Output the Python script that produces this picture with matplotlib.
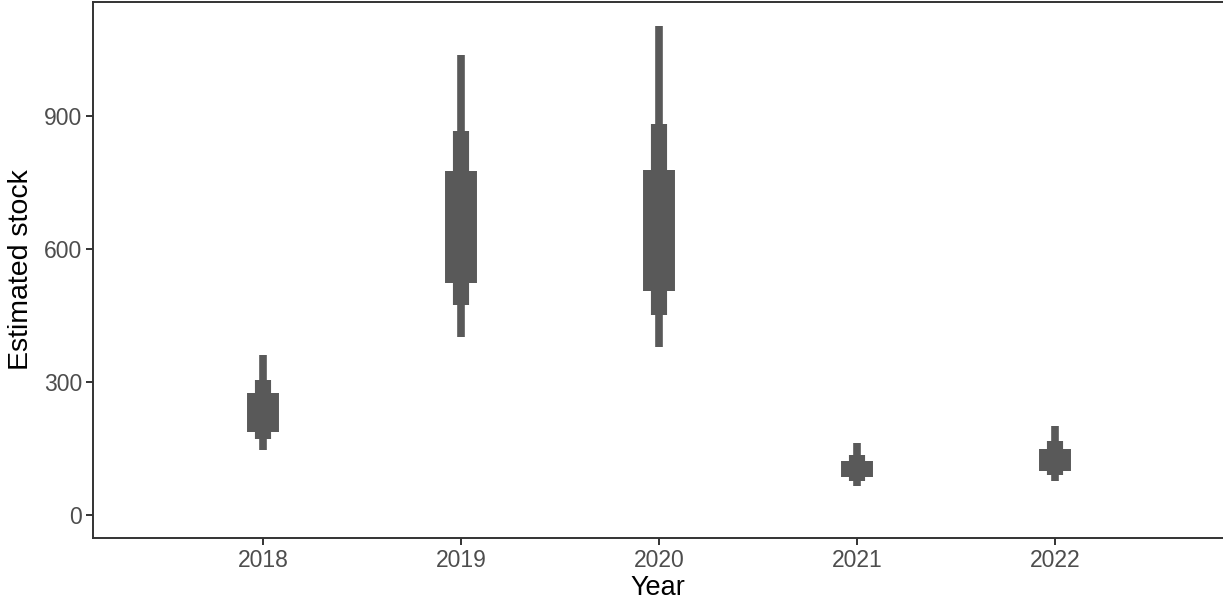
import matplotlib
matplotlib.use("Agg")
import matplotlib.pyplot as plt
import numpy as np

plt.rcParams['font.family'] = ['Liberation Sans', 'DejaVu Sans']

years = ["2018", "2019", "2020", "2021", "2022"]
# outer (thin) interval
lo_thin = [147, 402, 379, 66, 77]
hi_thin = [361, 1038, 1103, 162, 201]
# middle interval
lo_mid = [171, 474, 450, 77, 90]
hi_mid = [305, 867, 882, 135, 167]
# inner (thick) interval
lo_thick = [188, 522, 504, 85, 100]
hi_thick = [276, 776, 778, 122, 149]

W, H = 1223, 609
fig = plt.figure(figsize=(W / 100, H / 100), dpi=100)
left, right, top, bottom = 93, 1223.6, 1.5, 538
ax = fig.add_axes([left / W, 1 - bottom / H, (right - left) / W, (bottom - top) / H])

x = np.arange(1, len(years) + 1)
col = "#595959"
ax.vlines(x, lo_thin, hi_thin, color=col, linewidth=5.5, capstyle="butt")
ax.vlines(x, lo_mid, hi_mid, color=col, linewidth=11.6, capstyle="butt")
ax.vlines(x, lo_thick, hi_thick, color=col, linewidth=23.0, capstyle="butt")

ax.set_xlim(0.14, 5.85)
ax.set_ylim(-52, 1158)
ax.set_xticks(x)
ax.set_xticklabels(years)
ax.set_yticks([0, 300, 600, 900])

for s in ax.spines.values():
    s.set_color("#333333")
    s.set_linewidth(1.4)
ax.tick_params(axis="both", colors="#333333", width=1.4, length=5,
               labelsize=16.5, labelcolor="#4D4D4D", pad=3)
ax.set_xlabel("Year", fontsize=19.5, color="black", labelpad=2)
ax.set_ylabel("Estimated stock", fontsize=20.5, color="black", labelpad=7)

fig.savefig("out.png", dpi=100)
